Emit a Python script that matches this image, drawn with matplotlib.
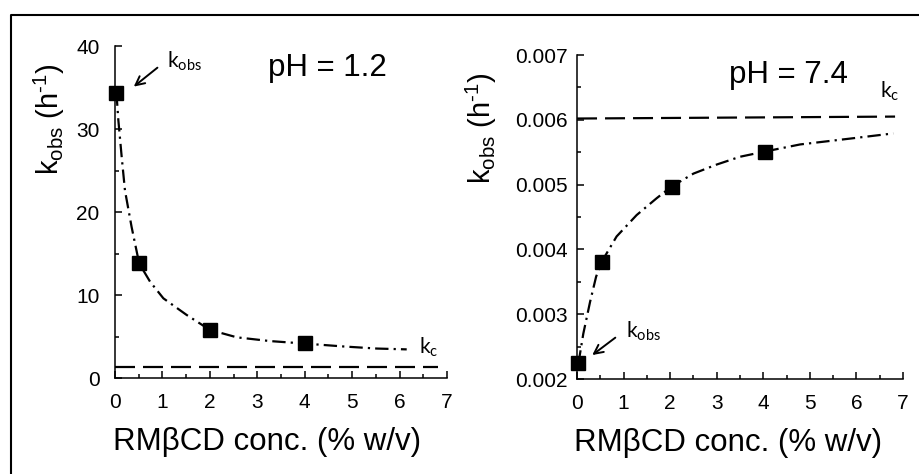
import matplotlib
matplotlib.use("Agg")
import matplotlib.pyplot as plt
from matplotlib.lines import Line2D
from matplotlib.ticker import MultipleLocator, FormatStrFormatter

plt.rcParams['font.family'] = ['Liberation Sans', 'DejaVu Sans']
plt.rcParams['mathtext.fontset'] = 'custom'
plt.rcParams['mathtext.rm'] = 'Liberation Sans'
plt.rcParams['mathtext.it'] = 'Liberation Sans'

# pH 1.2 panel
conc_left = [0.03, 0.5, 2.0, 4.0]
kobs_left = [34.4, 13.9, 5.8, 4.2]
fit_x_left = [0.03, 0.07, 0.14, 0.21, 0.35, 0.51, 0.74, 1.02, 1.51, 2.0,
              2.57, 3.27, 4.0, 4.82, 5.52, 6.15]
fit_y_left = [34.4, 31.1, 26.7, 22.6, 18.2, 13.8, 11.6, 9.6, 7.6, 5.8,
              4.9, 4.45, 4.15, 3.8, 3.55, 3.45]
kc_x_left = [0.0, 6.8]
kc_y_left = [1.35, 1.35]

# pH 7.4 panel
conc_right = [0.03, 0.53, 2.03, 4.03]
kobs_right = [0.00224, 0.00381, 0.00497, 0.00551]
fit_x_right = [0.03, 0.135, 0.28, 0.41, 0.53, 0.85, 1.28, 1.71, 2.03,
               2.5, 3.0, 3.5, 4.03, 4.79, 5.86, 6.79]
fit_y_right = [0.00224, 0.00270, 0.00319, 0.00358, 0.00381, 0.00420,
               0.00453, 0.00479, 0.00497, 0.00517, 0.00531, 0.00543,
               0.00551, 0.00562, 0.00571, 0.00579]
kc_x_right = [0.0, 6.83]
kc_y_right = [0.00602, 0.00605]

xlabel = "RMβCD conc. (% w/v)"
ylabel = r"$\mathregular{k_{obs}\ (h^{\text{-}1})}$"
note_font = ['Lato', 'DejaVu Sans']

fig = plt.figure(figsize=(9.2, 4.74), dpi=100)
ax1 = fig.add_axes([0.125, 0.2025, 0.3609, 0.7004])
ax2 = fig.add_axes([0.6272, 0.2004, 0.3543, 0.6835])

dashdot = (0, (6, 2.3, 1, 2.3))
dashed = (0, (9, 3.6))


def style_axes(ax, ymajor, yminor, ypad):
    for s in ['top', 'right']:
        ax.spines[s].set_visible(False)
    for s in ['left', 'bottom']:
        ax.spines[s].set_linewidth(1.1)
    ax.set_xlim(0, 7)
    ax.xaxis.set_major_locator(MultipleLocator(1))
    ax.xaxis.set_minor_locator(MultipleLocator(0.5))
    ax.yaxis.set_major_locator(MultipleLocator(ymajor))
    ax.yaxis.set_minor_locator(MultipleLocator(yminor))
    ax.tick_params(which='both', direction='in', width=1.1, labelsize=15)
    ax.tick_params(which='major', length=5)
    ax.tick_params(which='minor', length=3)
    ax.tick_params(axis='y', which='major', pad=ypad)
    ax.tick_params(axis='x', which='major', pad=11)


style_axes(ax1, 10, 5, 11)
ax1.set_ylim(0, 40)
ax1.plot(fit_x_left, fit_y_left, color='black', lw=1.6, linestyle=dashdot, clip_on=False)
ax1.plot(kc_x_left, kc_y_left, color='black', lw=1.6, linestyle=dashed, clip_on=False)
ax1.plot(conc_left, kobs_left, 's', color='black', ms=9.5, clip_on=False, zorder=5)
ax1.text(4.47, 37.3, "pH = 1.2", fontsize=22.5, ha='center', va='center')
ax1.annotate('', xy=(0.35, 34.9), xytext=(0.94, 37.6),
             arrowprops=dict(arrowstyle='->', lw=1.4, color='black', mutation_scale=16))
ax1.text(1.1, 38.1, r"$\mathregular{k_{obs}}$", fontsize=15, family=note_font, va='center')
ax1.text(6.4, 2.3, r"$\mathregular{k_c}$", fontsize=15, family=note_font, va='bottom')
ax1.set_xlabel(xlabel, fontsize=22.5)
ax1.set_ylabel(ylabel, fontsize=21)
ax1.xaxis.set_label_coords(0.458, -0.148)
ax1.yaxis.set_label_coords(-0.145, 0.78)

style_axes(ax2, 0.001, 0.0005, 7)
ax2.set_ylim(0.002, 0.007)
ax2.yaxis.set_major_formatter(FormatStrFormatter('%.3f'))
ax2.plot(fit_x_right, fit_y_right, color='black', lw=1.6, linestyle=dashdot, clip_on=False)
ax2.plot(kc_x_right, kc_y_right, color='black', lw=1.6, linestyle=dashed, clip_on=False)
ax2.plot(conc_right, kobs_right, 's', color='black', ms=9.5, clip_on=False, zorder=5)
ax2.text(4.53, 0.00669, "pH = 7.4", fontsize=22.5, ha='center', va='center')
ax2.annotate('', xy=(0.28, 0.002344), xytext=(0.87, 0.002664),
             arrowprops=dict(arrowstyle='->', lw=1.4, color='black', mutation_scale=16))
ax2.text(1.05, 0.00274, r"$\mathregular{k_{obs}}$", fontsize=15, family=note_font, va='center')
ax2.text(6.5, 0.00626, r"$\mathregular{k_c}$", fontsize=15, family=note_font, va='bottom')
ax2.set_xlabel(xlabel, fontsize=22.5)
ax2.set_ylabel(ylabel, fontsize=21)
ax2.xaxis.set_label_coords(0.463, -0.152)
ax2.yaxis.set_label_coords(-0.24, 0.775)

# outer frame
fig.add_artist(Line2D([11 / 920, 11 / 920, 1.0], [0.0, 1 - 15 / 474, 1 - 15 / 474],
                      transform=fig.transFigure, color='black', lw=1.5))

fig.savefig("out.png", dpi=100)
